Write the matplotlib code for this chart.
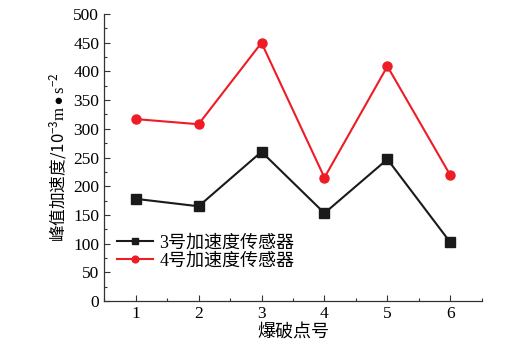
import matplotlib
matplotlib.use("Agg")
import matplotlib.pyplot as plt
from matplotlib.ticker import MultipleLocator

points = [1, 2, 3, 4, 5, 6]
sensor3 = [178, 165, 260, 153, 247, 102]
sensor4 = [317, 308, 450, 215, 409, 219]
labels = ["3号加速度传感器", "4号加速度传感器"]

plt.rcParams['font.family'] = ['Liberation Serif', 'Noto Sans CJK SC']
plt.rcParams['mathtext.fontset'] = 'custom'
plt.rcParams['mathtext.rm'] = 'Noto Sans CJK SC'
plt.rcParams['mathtext.it'] = 'Liberation Serif'
plt.rcParams['mathtext.bf'] = 'Liberation Serif'

fig = plt.figure(figsize=(5.26, 3.52), dpi=100)
ax = fig.add_axes([0.198, 0.145, 0.718, 0.815])

ax.plot(points, sensor3, color='#1a1a1a', marker='s', markersize=6.5, lw=1.5, label=labels[0])
ax.plot(points, sensor4, color='#ee1c25', marker='o', markersize=6.5, lw=1.5, label=labels[1])

ax.set_xlim(0.5, 6.5)
ax.set_ylim(0, 500)
ax.xaxis.set_major_locator(MultipleLocator(1))
ax.xaxis.set_minor_locator(MultipleLocator(0.5))
ax.yaxis.set_major_locator(MultipleLocator(50))
ax.yaxis.set_minor_locator(MultipleLocator(25))
ax.tick_params(which='both', direction='in', labelsize=12.5, width=0.8, color='#333333')
ax.tick_params(which='major', length=4)
ax.tick_params(which='minor', length=2)
ax.spines['top'].set_visible(False)
ax.spines['right'].set_visible(False)
for s in ('left', 'bottom'):
    ax.spines[s].set_linewidth(0.9)
    ax.spines[s].set_color('#333333')

ax.set_xlabel("爆破点号", fontsize=13, labelpad=1)
ax.set_ylabel(r"峰值加速度/$\mathit{10}^{\mathit{-3}}\mathit{m}\bullet\mathit{s}^{\mathit{-2}}$",
              fontsize=12, labelpad=4, fontfamily='Noto Sans CJK SC')

ax.legend(loc='lower left', bbox_to_anchor=(0.0, 0.065), frameon=False, fontsize=13,
          handlelength=2.0, handletextpad=0.35, labelspacing=0.05, borderaxespad=0.3,
          markerscale=0.75)

fig.savefig("out.png", dpi=100)
